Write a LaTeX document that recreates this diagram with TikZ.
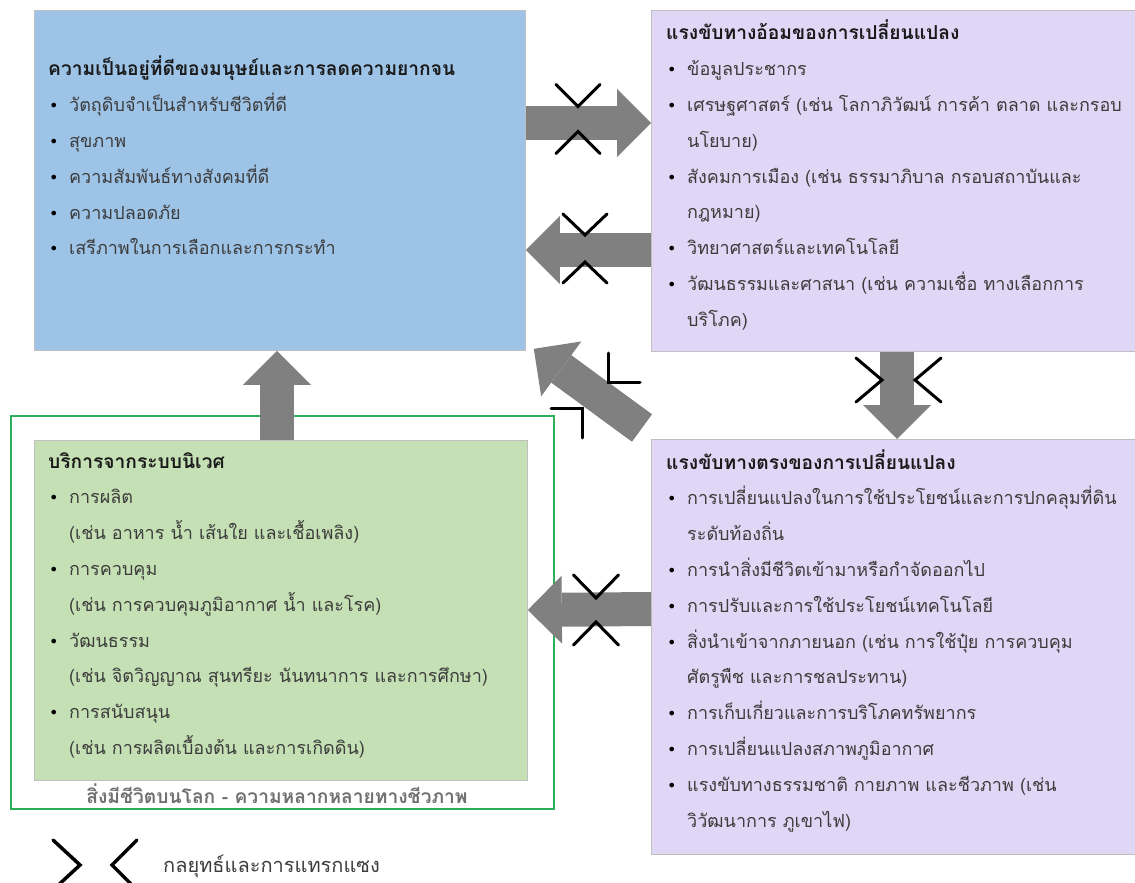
\documentclass[tikz,border=0pt]{standalone}
\usepackage{fontspec}
\newfontfamily\thai[Script=Thai]{Loma}
\newfontfamily\bulletfont{DejaVu Sans}
\usetikzlibrary{arrows.meta,calc}

\definecolor{wellblue}{HTML}{9DC3E6}
\definecolor{drvpurple}{HTML}{DFD7F5}
\definecolor{ecogreen}{HTML}{C5E0B4}
\definecolor{lifegreen}{HTML}{2DAE5A}
\definecolor{flowgray}{HTML}{808080}
\definecolor{bodytext}{HTML}{3C3C3C}
\definecolor{titletext}{HTML}{1A1A1A}
\definecolor{labelgray}{HTML}{707070}
\definecolor{boxline}{HTML}{C0C0C0}

% text block: first baseline is the node's base
\newcommand\txtblock[1]{\parbox[t]{560pt}{\thai\fontsize{18}{35.8}\selectfont\raggedright #1}}
\newcommand\ttl[1]{\noindent{\fontsize{19.2}{35.8}\selectfont\bfseries\color{titletext}#1}}
\newcommand\itm[1]{\par\hangindent=21pt\hangafter=1\noindent\makebox[21pt][l]{\hspace{1pt}{\bulletfont\fontsize{16}{16}\selectfont\color{black}•}}#1}

% pair of facing chevrons: center, rotation, apex offset, depth, half span
\newcommand\chevpair[5]{%
  \begin{scope}[shift={#1}, rotate=#2]
    \draw[chev] (-#3-#4,-#5) -- (-#3,0) -- (-#3-#4,#5);
    \draw[chev] (#3+#4,-#5) -- (#3,0) -- (#3+#4,#5);
  \end{scope}}

\begin{document}
\begin{tikzpicture}[x=1pt, y=-1pt,
  box/.style={draw=boxline, line width=0.8pt, anchor=north west, inner sep=0pt},
  txt/.style={anchor=base west, inner sep=0pt, text=bodytext},
  flow/.style={draw=flowgray, line width=34pt, line cap=butt,
    -{Triangle[length=34pt, width=68pt, line width=0pt]}},
  chev/.style={draw=black, line width=3pt, line cap=round, line join=miter}]
\useasboundingbox (0,0) rectangle (1135,883);

% ---- boxes ----
\node[box, fill=wellblue, minimum width=491pt, minimum height=340pt] (blue) at (34,10) {};
\node[box, fill=drvpurple, minimum width=490pt, minimum height=341pt] (purtop) at (651,10) {};
\node[box, fill=drvpurple, minimum width=490pt, minimum height=415pt] (purbot) at (651,439) {};
\node[box, draw=lifegreen, line width=2pt, minimum width=543pt, minimum height=393pt] (lifebox) at (10,415) {};
\node[box, fill=ecogreen, minimum width=493pt, minimum height=340pt] (greenbox) at (34,440) {};

% ---- texts ----
\node[txt] (bluetxt) at (48,76) {\txtblock{%
  \ttl{ความเป็นอยู่ที่ดีของมนุษย์และการลดความยากจน}
  \itm{วัตถุดิบจำเป็นสำหรับชีวิตที่ดี}
  \itm{สุขภาพ}
  \itm{ความสัมพันธ์ทางสังคมที่ดี}
  \itm{ความปลอดภัย}
  \itm{เสรีภาพในการเลือกและการกระทำ}}};

\node[txt] (purtoptxt) at (666,40) {\txtblock{%
  \ttl{แรงขับทางอ้อมของการเปลี่ยนแปลง}
  \itm{ข้อมูลประชากร}
  \itm{เศรษฐศาสตร์ (เช่น โลกาภิวัฒน์ การค้า ตลาด และกรอบ\newline นโยบาย)}
  \itm{สังคมการเมือง (เช่น ธรรมาภิบาล กรอบสถาบันและ\newline กฎหมาย)}
  \itm{วิทยาศาสตร์และเทคโนโลยี}
  \itm{วัฒนธรรมและศาสนา (เช่น ความเชื่อ ทางเลือกการ\newline บริโภค)}}};

\node[txt] (purbottxt) at (666,469) {\txtblock{%
  \ttl{แรงขับทางตรงของการเปลี่ยนแปลง}
  \itm{การเปลี่ยนแปลงในการใช้ประโยชน์และการปกคลุมที่ดิน\newline ระดับท้องถิ่น}
  \itm{การนำสิ่งมีชีวิตเข้ามาหรือกำจัดออกไป}
  \itm{การปรับและการใช้ประโยชน์เทคโนโลยี}
  \itm{สิ่งนำเข้าจากภายนอก (เช่น การใช้ปุ๋ย การควบคุม\newline ศัตรูพืช และการชลประทาน)}
  \itm{การเก็บเกี่ยวและการบริโภคทรัพยากร}
  \itm{การเปลี่ยนแปลงสภาพภูมิอากาศ}
  \itm{แรงขับทางธรรมชาติ กายภาพ และชีวภาพ (เช่น\newline วิวัฒนาการ ภูเขาไฟ)}}};

\node[txt] (greentxt) at (48,468) {\txtblock{%
  \ttl{บริการจากระบบนิเวศ}
  \itm{การผลิต\newline (เช่น อาหาร น้ำ เส้นใย และเชื้อเพลิง)}
  \itm{การควบคุม\newline (เช่น การควบคุมภูมิอากาศ น้ำ และโรค)}
  \itm{วัฒนธรรม\newline (เช่น จิตวิญญาณ สุนทรียะ นันทนาการ และการศึกษา)}
  \itm{การสนับสนุน\newline (เช่น การผลิตเบื้องต้น และการเกิดดิน)}}};

\node[anchor=base, inner sep=0pt, text=labelgray] (lifelabel) at (277,803)
  {\thai\fontsize{19.2}{20}\selectfont\bfseries สิ่งมีชีวิตบนโลก - ความหลากหลายทางชีวภาพ};

% ---- flows between boxes ----
\draw[flow] ([yshift=-113pt]blue.north east) -- ([yshift=-113pt]purtop.north west);
\draw[flow] ([yshift=-240pt]purtop.north west) -- ([yshift=-240pt]blue.north east);
\draw[flow] ([xshift=246pt]purtop.south west) -- ([xshift=246pt]purbot.north west);
\draw[flow] ([yshift=-170pt]purbot.north west) -- ([yshift=-170pt]greenbox.north east);
\draw[flow] ([xshift=243pt]greenbox.north west) -- ([xshift=243pt]blue.south west);
\draw[flow] ($(purbot.north west)+(-9,-11)$) -- ($(blue.south east)+(8,-2)$);

% ---- strategy and intervention marks ----
\chevpair{(578,119)}{90}{12.5}{22}{22}
\chevpair{(585,248.5)}{90}{13.5}{21}{22}
\chevpair{(596,610)}{90}{12}{23}{22.5}
\chevpair{(898.5,380)}{0}{16.5}{26}{22}
\draw[chev] (608,353) -- (608,382) -- (640,382);
\draw[chev] (551,408) -- (582,408) -- (582,438);

% ---- legend ----
\draw[chev, line width=3.5pt] (53,840) -- (80,865) -- (53,890);
\draw[chev, line width=3.5pt] (137,840) -- (112,865) -- (137,890);
\node[txt] (legendtxt) at (163,872)
  {\thai\fontsize{20}{22}\selectfont กลยุทธ์และการแทรกแซง};
\end{tikzpicture}
\end{document}
